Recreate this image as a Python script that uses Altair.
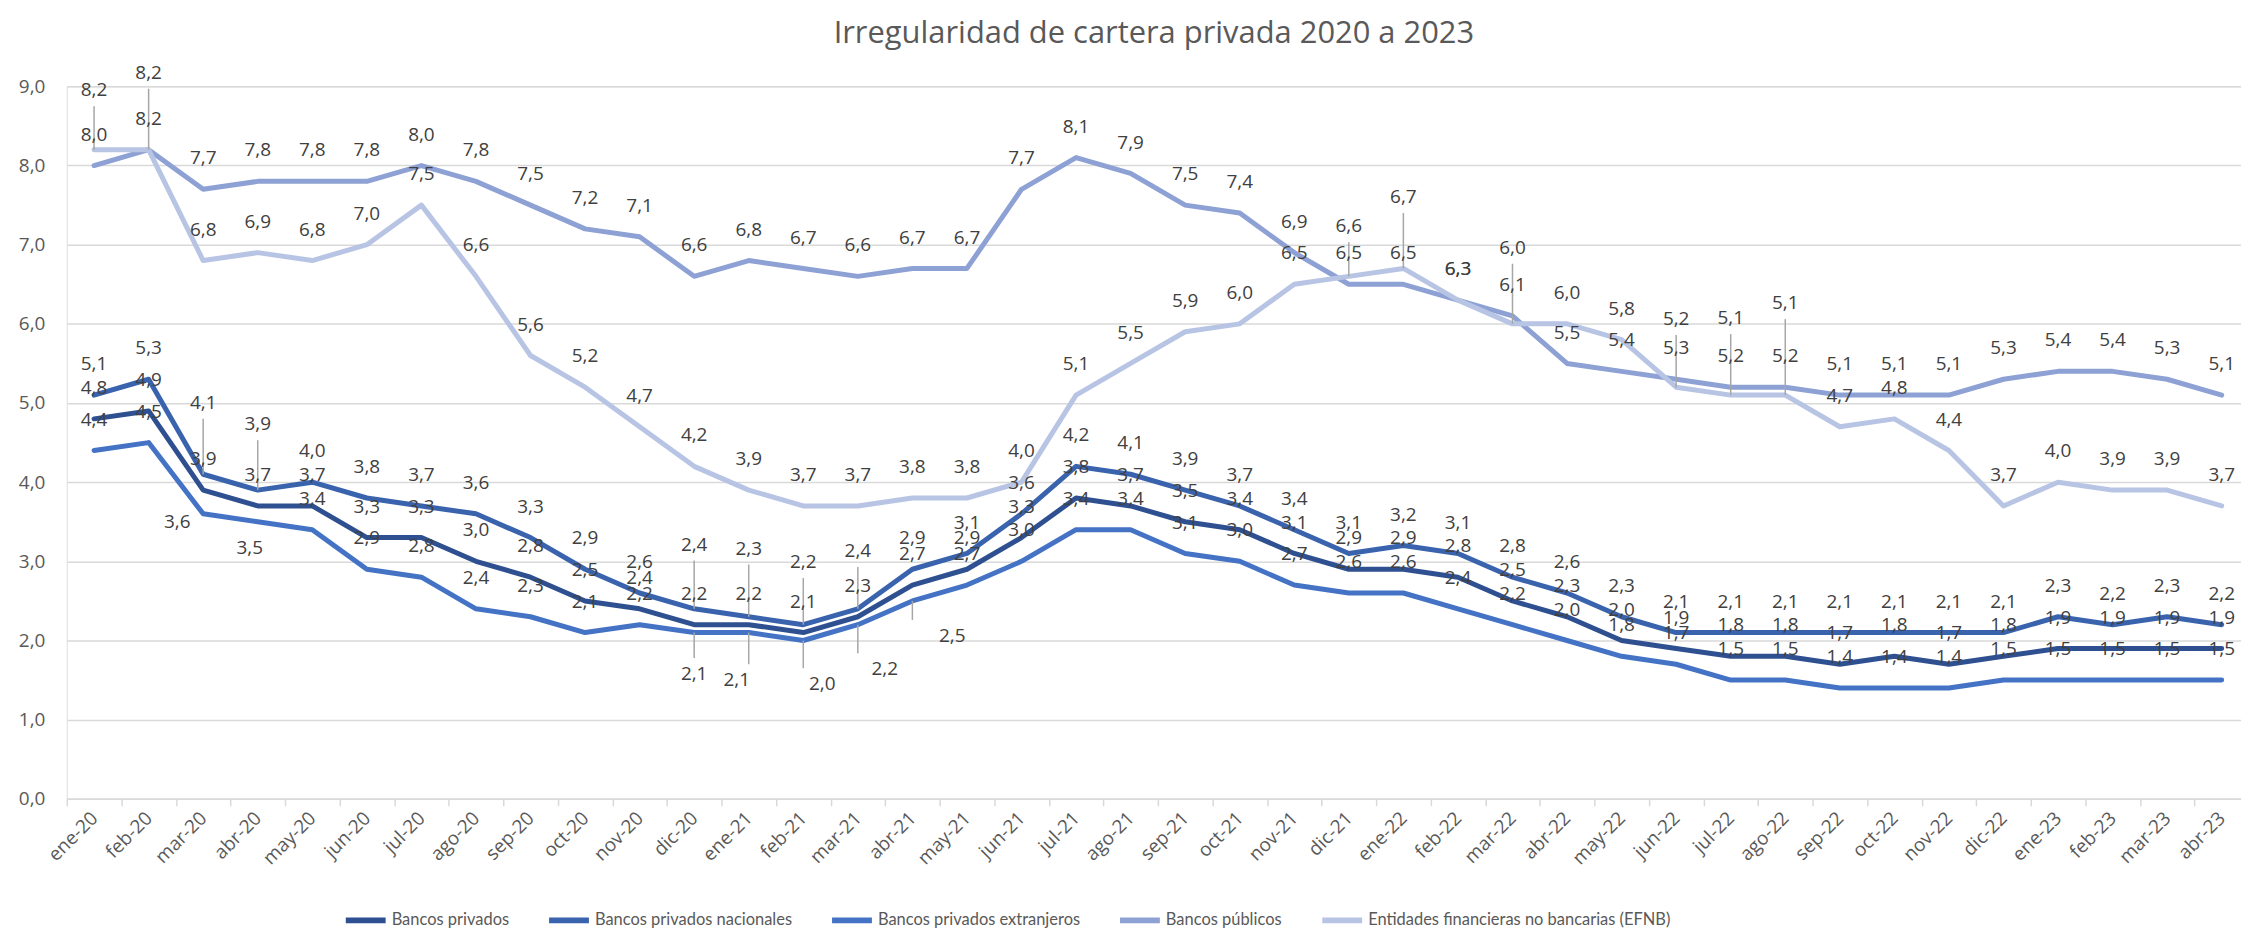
import altair as alt
import pandas as pd

months = ["ene-20", "feb-20", "mar-20", "abr-20", "may-20", "jun-20", "jul-20", "ago-20",
          "sep-20", "oct-20", "nov-20", "dic-20", "ene-21", "feb-21", "mar-21", "abr-21",
          "may-21", "jun-21", "jul-21", "ago-21", "sep-21", "oct-21", "nov-21", "dic-21",
          "ene-22", "feb-22", "mar-22", "abr-22", "may-22", "jun-22", "jul-22", "ago-22",
          "sep-22", "oct-22", "nov-22", "dic-22", "ene-23", "feb-23", "mar-23", "abr-23"]

PRIV = "Bancos privados"
NAC = "Bancos privados nacionales"
EXT = "Bancos privados extranjeros"
PUB = "Bancos públicos"
EFNB = "Entidades financieras no bancarias (EFNB)"
series_names = [PRIV, NAC, EXT, PUB, EFNB]

bancos_privados = [4.8, 4.9, 3.9, 3.7, 3.7, 3.3, 3.3, 3.0, 2.8, 2.5, 2.4, 2.2,
                   2.2, 2.1, 2.3, 2.7, 2.9, 3.3, 3.8, 3.7, 3.5, 3.4, 3.1, 2.9,
                   2.9, 2.8, 2.5, 2.3, 2.0, 1.9, 1.8, 1.8, 1.7, 1.8, 1.7, 1.8,
                   1.9, 1.9, 1.9, 1.9]
bancos_nacionales = [5.1, 5.3, 4.1, 3.9, 4.0, 3.8, 3.7, 3.6, 3.3, 2.9, 2.6, 2.4,
                     2.3, 2.2, 2.4, 2.9, 3.1, 3.6, 4.2, 4.1, 3.9, 3.7, 3.4, 3.1,
                     3.2, 3.1, 2.8, 2.6, 2.3, 2.1, 2.1, 2.1, 2.1, 2.1, 2.1, 2.1,
                     2.3, 2.2, 2.3, 2.2]
bancos_extranjeros = [4.4, 4.5, 3.6, 3.5, 3.4, 2.9, 2.8, 2.4, 2.3, 2.1, 2.2, 2.1,
                      2.1, 2.0, 2.2, 2.5, 2.7, 3.0, 3.4, 3.4, 3.1, 3.0, 2.7, 2.6,
                      2.6, 2.4, 2.2, 2.0, 1.8, 1.7, 1.5, 1.5, 1.4, 1.4, 1.4, 1.5,
                      1.5, 1.5, 1.5, 1.5]
bancos_publicos = [8.0, 8.2, 7.7, 7.8, 7.8, 7.8, 8.0, 7.8, 7.5, 7.2, 7.1, 6.6,
                   6.8, 6.7, 6.6, 6.7, 6.7, 7.7, 8.1, 7.9, 7.5, 7.4, 6.9, 6.5,
                   6.5, 6.3, 6.1, 5.5, 5.4, 5.3, 5.2, 5.2, 5.1, 5.1, 5.1, 5.3,
                   5.4, 5.4, 5.3, 5.1]
efnb = [8.2, 8.2, 6.8, 6.9, 6.8, 7.0, 7.5, 6.6, 5.6, 5.2, 4.7, 4.2,
        3.9, 3.7, 3.7, 3.8, 3.8, 4.0, 5.1, 5.5, 5.9, 6.0, 6.5, 6.6,
        6.7, 6.3, 6.0, 6.0, 5.8, 5.2, 5.1, 5.1, 4.7, 4.8, 4.4, 3.7,
        4.0, 3.9, 3.9, 3.7]

colors = ["#2E5090", "#3A63AE", "#4472C4", "#8EA1D4", "#B8C4E4"]

y_ticks = [0, 1, 2, 3, 4, 5, 6, 7, 8, 9]

# Data labels that the original chart moved away from their points
# (series, month, label centre offset in value units, horizontal shift in px, leader line)
label_moves = [
    (EFNB, "ene-20", 0.75, 0, True),
    (EFNB, "feb-20", 0.97, 0, True),
    (NAC, "mar-20", 0.90, 0, True),
    (NAC, "abr-20", 0.83, 0, True),
    (EXT, "mar-20", -0.10, -26, False),
    (EXT, "abr-20", -0.33, -8, False),
    (NAC, "dic-20", 0.81, 0, True),
    (EXT, "dic-20", -0.52, 0, True),
    (NAC, "ene-21", 0.86, 0, True),
    (EXT, "ene-21", -0.60, -12, True),
    (NAC, "feb-21", 0.79, 0, True),
    (EXT, "feb-21", -0.55, 19, True),
    (NAC, "mar-21", 0.73, 0, True),
    (EXT, "mar-21", -0.56, 27, True),
    (EXT, "abr-21", -0.44, 40, True),
    (EFNB, "dic-21", 0.63, 0, True),
    (EFNB, "ene-22", 0.90, 0, True),
    (EFNB, "mar-22", 0.96, 0, True),
    (EFNB, "jun-22", 0.86, 0, True),
    (EFNB, "jul-22", 0.97, 0, True),
    (EFNB, "ago-22", 1.16, 0, True),
]

DEFAULT_OFF = 0.39
LEADER_GAP = 0.2

values = [bancos_privados, bancos_nacionales, bancos_extranjeros, bancos_publicos, efnb]
moves = {(s, m): (o, d, l) for s, m, o, d, l in label_moves}
rows = []
for si, (name, vals) in enumerate(zip(series_names, values)):
    for m, v in zip(months, vals):
        off, dx, leader = moves.get((name, m), (DEFAULT_OFF, 0, False))
        rows.append({"mes": m, "serie": name, "orden": si, "valor": v,
                     "etiqueta": f"{v:.1f}".replace(".", ","),
                     "pos_etiqueta": v + off, "dx": dx,
                     "lider": leader,
                     "fin_lider": v + off - (LEADER_GAP if off > 0 else -LEADER_GAP)})
df = pd.DataFrame(rows)

FONT = "Open Sans"
STEP_HALF = 2190 / 40 / 2

x_scale = alt.Scale(type="point", padding=0.5, range=[0, 2190])
y_scale = alt.Scale(domain=[0, 9], nice=False, zero=True)

x_enc = alt.X("mes:N", sort=months, title=None, scale=x_scale,
              axis=alt.Axis(labelAngle=-45, labelAlign="right", labelBaseline="middle",
                            labelFont=FONT, labelFontSize=19, labelColor="#595959",
                            labelPadding=9, tickOffset=-STEP_HALF, labelOffset=STEP_HALF,
                            ticks=True, tickSize=7, tickColor="#D9D9D9", tickWidth=1.5,
                            domain=True, domainColor="#D9D9D9", domainWidth=1.5,
                            grid=False, labelOverlap=False))
y_enc = alt.Y("valor:Q", title=None, scale=y_scale,
              axis=alt.Axis(values=y_ticks, labelExpr="replace(format(datum.value, '.1f'), '.', ',')",
                            labelFont=FONT, labelFontSize=19, labelColor="#595959",
                            labelPadding=22, ticks=False, domain=False,
                            grid=True, gridColor="#D9D9D9", gridWidth=1.5))

color_enc = alt.Color("serie:N", sort=series_names,
                      scale=alt.Scale(domain=series_names, range=colors),
                      legend=alt.Legend(title=None, orient="none", direction="horizontal",
                                        legendX=277, legendY=814,
                                        symbolType="stroke", symbolSize=1600,
                                        symbolStrokeWidth=6, labelFont="Lato",
                                        labelFontSize=16.5, labelColor="#595959",
                                        labelLimit=600, columnPadding=28, labelOffset=3))

base = alt.Chart(df)

lines = base.mark_line(strokeWidth=5, strokeJoin="round", strokeCap="round").encode(
    x=x_enc, y=y_enc, color=color_enc, order=alt.Order("orden:Q")
)

leaders = base.transform_filter("datum.lider").mark_rule(color="#A6A6A6", strokeWidth=1.5).encode(
    x=alt.X("mes:N", sort=months, scale=x_scale),
    y=alt.Y("valor:Q", scale=y_scale),
    y2="fin_lider:Q",
)

# one text layer per horizontal shift (most labels sit straight above their points)
label_layers = []
for shift in sorted(set(df["dx"])):
    label_layers.append(
        base.transform_filter(f"datum.dx == {shift}").mark_text(
            font=FONT, fontSize=19, color="#404040", baseline="middle", align="center", dx=int(shift)
        ).encode(
            x=alt.X("mes:N", sort=months, scale=x_scale),
            y=alt.Y("pos_etiqueta:Q", scale=y_scale),
            detail="serie:N",
            text=alt.Text("etiqueta:N"),
        )
    )

chart = alt.layer(lines, leaders, *label_layers).properties(
    width=2182, height=715,
    title=alt.TitleParams("Irregularidad de cartera privada 2020 a 2023", font=FONT, fontSize=31,
                          fontWeight="normal", color="#595959", anchor="middle", offset=14),
    autosize=alt.AutoSizeParams(type="none"),
    padding={"left": 59, "top": 77, "right": 0, "bottom": 130},
).configure_view(stroke=None).configure(background="white")

chart.save("out.html", embed_options={"renderer": "svg", "actions": False})
